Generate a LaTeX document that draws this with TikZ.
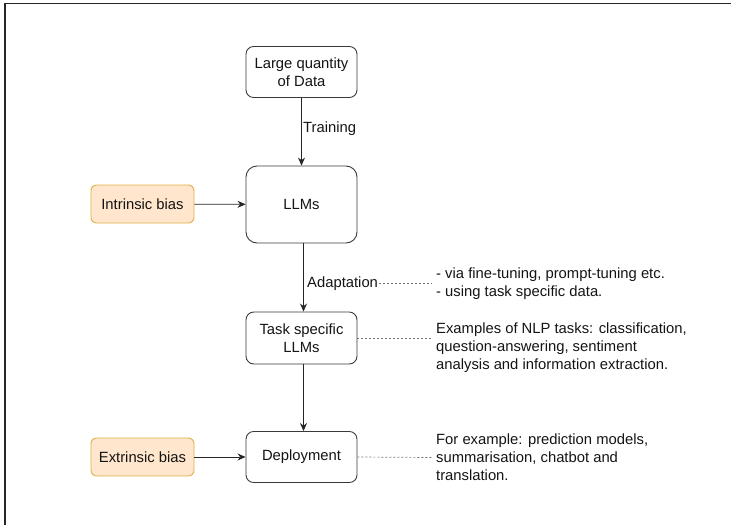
\documentclass[tikz,border=0pt]{standalone}
\usepackage{fontspec}
\setmainfont{Liberation Sans}
\usetikzlibrary{arrows.meta}
\definecolor{biasfill}{HTML}{FFE6CC}
\definecolor{biasline}{HTML}{DDB04A}
\definecolor{boxline}{HTML}{3A3A3A}
\definecolor{txt}{HTML}{141414}
\begin{document}
\begin{tikzpicture}[x=1pt,y=-1pt,
  font=\fontsize{14.8}{17.8}\selectfont, text=txt,
  box/.style={draw=boxline, line width=0.9pt, fill=white, minimum width=111pt, align=center, inner sep=0pt},
  bias/.style={draw=biasline, fill=biasfill, line width=0.9pt, minimum width=103pt, minimum height=38pt, rounded corners=5.7pt, inner sep=0pt},
  arr/.style={draw=black!85, line width=0.8pt, -{Stealth[length=8pt,width=7pt]}},
  notelink/.style={draw=black!55, line width=0.7pt, dash pattern=on 2pt off 2pt},
  note/.style={anchor=west, align=left, inner xsep=4pt, inner ysep=0pt},
  lbl/.style={anchor=west, inner xsep=1pt, inner ysep=0pt}]
\useasboundingbox (0,0) rectangle (731,525);
\draw[line width=1.2pt, black!85] (5,525) -- (5,3.5) -- (731,3.5);

\node[box, minimum height=51pt, rounded corners=7.6pt] (data) at (301.5,72) {Large quantity\\of Data};
\node[box, minimum height=77pt, rounded corners=11pt] (llm) at (301.5,204.5) {LLMs};
\node[box, minimum height=52pt, rounded corners=7.8pt] (task) at (301.5,338) {Task specific\\LLMs};
\node[box, minimum height=51pt, rounded corners=7.6pt] (dep) at (301.5,457) {Deployment};
\node[bias] (ib) at (142.5,204) {Intrinsic bias};
\node[bias] (eb) at (142.5,457) {Extrinsic bias};

\node[lbl] (trl) at (302,128.5) {Training};
\node[lbl] (adl) at (306,283.5) {Adaptation};

\node[note] (adnote) at (432,283.5) {- via fine-tuning, prompt-tuning etc.\\- using task specific data.};
\node[note] (tnote) at (432,347.5) {Examples of NLP tasks: classification,\\question-answering, sentiment\\analysis and information extraction.};
\node[note] (dnote) at (432,457.5) {For example: prediction models,\\summarisation, chatbot and\\translation.};

\draw[arr] (data) -- (llm);
\draw[arr] ([xshift=2pt]llm.south) -- ([xshift=2pt]task.north);
\draw[arr] ([xshift=2pt]task.south) -- ([xshift=2pt]dep.north);
\draw[arr] (ib) -- (llm);
\draw[arr] (eb) -- (dep);

\draw[notelink] (adl.east) -- (adnote.west);
\draw[notelink] (task.east) -- (task.east -| tnote.west);
\draw[notelink] (dep.east) -- (dnote.west);
\end{tikzpicture}
\end{document}
